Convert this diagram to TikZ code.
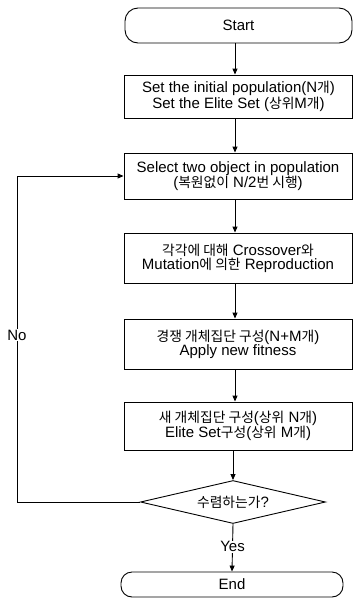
\documentclass[tikz,border=0pt]{standalone}
\usepackage{fontspec}
\setmainfont{Liberation Sans}
\newfontfamily\krfont{Noto Sans CJK KR}[Scale=0.92]
\newcommand\kr[1]{{\krfont #1}}
\usetikzlibrary{arrows.meta,shapes.geometric}
\begin{document}
\begin{tikzpicture}[x=1pt,y=-1pt,
  every node/.style={font=\fontsize{15}{14}\selectfont},
  procbox/.style={draw, line width=0.9pt, minimum width=228pt, inner sep=0pt, align=center},
  termbox/.style={draw, line width=0.9pt, rounded corners=13pt, inner sep=0pt},
  decbox/.style={draw, line width=0.9pt, diamond, aspect=4.3, inner sep=0pt, minimum width=185pt, minimum height=43pt},
  flow/.style={line width=0.9pt, -{Triangle[length=6pt,width=5pt]}},
  lbl/.style={fill=white, inner sep=1pt}]
\useasboundingbox (0,0) rectangle (356,608);
\node[termbox, minimum width=227pt, minimum height=35pt] (start) at (238.5,25.5) {Start};
\node[procbox, minimum height=43pt] (b1) at (238.5,96.5) {Set the initial population(N\kr{개})\\Set the Elite Set (\kr{상위}M\kr{개})};
\node[procbox, minimum height=46pt] (b2) at (238,176) {Select two object in population\\(\kr{복원없이} N/2\kr{번 시행})};
\node[procbox, minimum height=50pt] (b3) at (238,258) {\kr{각각에 대해} Crossover\kr{와}\\Mutation\kr{에 의한} Reproduction};
\node[procbox, minimum height=50pt] (b4) at (238,344) {\kr{경쟁 개체집단 구성}(N+M\kr{개})\\Apply new fitness};
\node[procbox, minimum height=48pt] (b5) at (238,426) {\kr{새 개체집단 구성}(\kr{상위} N\kr{개})\\Elite Set\kr{구성}(\kr{상위} M\kr{개})};
\node[decbox] (dec) at (233,502) {\kr{수렴하는가}?};
\node[termbox, rounded corners=11pt, minimum width=222pt, minimum height=25pt] (end) at (232,584.5) {End};
\coordinate (loopx) at (17,0);
\draw[flow] (start.south -| 235,0) -- (b1.north -| 235,0);
\draw[flow] (b1.south -| 235,0) -- (b2.north -| 235,0);
\draw[flow] (b2.south -| 235,0) -- (b3.north -| 235,0);
\draw[flow] (b3.south -| 235,0) -- (b4.north -| 235,0);
\draw[flow] (b4.south -| 235,0) -- (b5.north -| 235,0);
\draw[flow] (b5.south -| dec.north) -- (dec.north);
\draw[flow] (dec.south) -- node[lbl, pos=0.48] (yes) {Yes} (end.north);
\draw[flow] (dec.west) -- (dec.west -| loopx) |- node[lbl, pos=0.256] (no) {No} (b2.west);
\end{tikzpicture}
\end{document}
